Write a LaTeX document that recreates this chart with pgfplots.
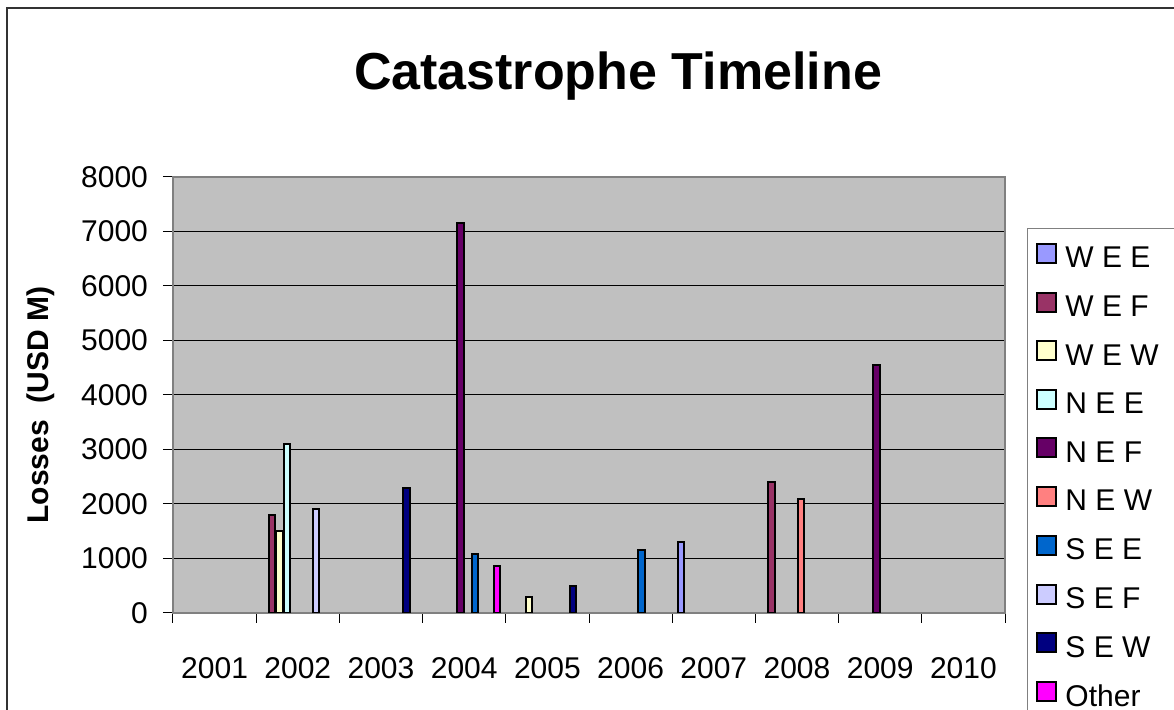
\documentclass[border=0pt]{standalone}
\usepackage{pgfplots}
\pgfplotsset{compat=1.18}
\usepackage{fontspec}
\setmainfont{Liberation Sans}
\definecolor{cWEE}{HTML}{9999FF}
\definecolor{cWEF}{HTML}{993366}
\definecolor{cWEW}{HTML}{FFFFCC}
\definecolor{cNEE}{HTML}{CCFFFF}
\definecolor{cNEF}{HTML}{660066}
\definecolor{cNEW}{HTML}{FF8080}
\definecolor{cSEE}{HTML}{0066CC}
\definecolor{cSEF}{HTML}{CCCCFF}
\definecolor{cSEW}{HTML}{000080}
\definecolor{cOTH}{HTML}{FF00FF}
\definecolor{plotbg}{HTML}{C0C0C0}
\definecolor{axgray}{HTML}{808080}
\begin{document}
\begin{tikzpicture}
\useasboundingbox (0,0) rectangle (587pt,355pt);
\clip (0,0) rectangle (587pt,355pt);
\fill[white] (0,0) rectangle (587pt,355pt);
\draw[line width=1pt, black!80] (3.5pt,-10pt) -- (3.5pt,351pt) -- (600pt,351pt);
\node[font=\bfseries\fontsize{26}{30}\selectfont, anchor=base] at (309pt,310pt) {Catastrophe Timeline};
\begin{axis}[
  at={(86.5pt,48.5pt)}, anchor=south west,
  scale only axis, width=416pt, height=218pt,
  xmin=-0.5, xmax=9.5, ymin=0, ymax=8000,
  axis background/.style={fill=plotbg},
  ytick={0,1000,...,8000},
  ymajorgrids, major grid style={black, line width=0.5pt},
  xtick={-0.5,0.5,...,9.5},
  xticklabels={2001,2002,2003,2004,2005,2006,2007,2008,2009,2010,{}},
  tick pos=left,
  tick align=outside, major tick length=5pt,
  tick style={black, line width=0.5pt},
  axis line style={axgray, line width=1pt},
  /pgf/number format/assume math mode=true,
  /pgf/number format/1000 sep={},
  every tick label/.append style={font=\fontsize{15}{17}\selectfont},
  xticklabel style={anchor=base, xshift=20.8pt, yshift=-28pt},
  yticklabel style={anchor=east, xshift=-4pt},
  ylabel={Losses\ \ (USD M)},
  every axis y label/.style={at={(axis description cs:-0.1587,0.477)}, rotate=90, anchor=center, font=\bfseries\fontsize{15}{17}\selectfont},
  legend style={at={(rel axis cs:1.0264,0.883)}, anchor=north west,
    draw=axgray, line width=0.5pt, fill=white,
    font=\fontsize{15}{17}\selectfont,
    nodes={inner sep=0pt},
    row sep=10.4pt, column sep=4pt, inner ysep=7.25pt, inner xsep=4.5pt},
  legend cell align=left,
  legend image code/.code={\draw[#1, line width=1pt] (0pt,-2pt) rectangle (9.5pt,7.5pt);},
]
\addplot[ybar, bar width=3.15pt, bar shift=-16.425pt, fill=cWEE, draw=black, line width=1pt] coordinates {(6,1300)};
\addplot[ybar, bar width=3.15pt, bar shift=-12.775pt, fill=cWEF, draw=black, line width=1pt] coordinates {(1,1800) (7,2400)};
\addplot[ybar, bar width=3.15pt, bar shift=-9.125pt, fill=cWEW, draw=black, line width=1pt] coordinates {(1,1500) (4,300)};
\addplot[ybar, bar width=3.15pt, bar shift=-5.475pt, fill=cNEE, draw=black, line width=1pt] coordinates {(1,3100)};
\addplot[ybar, bar width=3.15pt, bar shift=-1.825pt, fill=cNEF, draw=black, line width=1pt] coordinates {(3,7150) (8,4550)};
\addplot[ybar, bar width=3.15pt, bar shift=1.825pt, fill=cNEW, draw=black, line width=1pt] coordinates {(7,2100)};
\addplot[ybar, bar width=3.15pt, bar shift=5.475pt, fill=cSEE, draw=black, line width=1pt] coordinates {(3,1080) (5,1150)};
\addplot[ybar, bar width=3.15pt, bar shift=9.125pt, fill=cSEF, draw=black, line width=1pt] coordinates {(1,1900)};
\addplot[ybar, bar width=3.15pt, bar shift=12.775pt, fill=cSEW, draw=black, line width=1pt] coordinates {(2,2300) (4,500)};
\addplot[ybar, bar width=3.15pt, bar shift=16.425pt, fill=cOTH, draw=black, line width=1pt] coordinates {(3,870)};
\legend{W E E, W E F, W E W\hspace*{6pt}, N E E, N E F, N E W, S E E, S E F, S E W, Other}
\end{axis}
\end{tikzpicture}
\end{document}
